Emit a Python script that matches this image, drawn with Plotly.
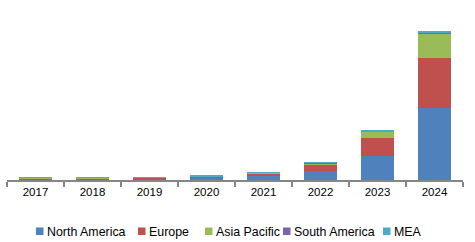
import plotly.graph_objects as go

years = ["2017", "2018", "2019", "2020", "2021", "2022", "2023", "2024"]
north_america = [0.8, 0.8, 0.8, 2.8, 4.3, 9.0, 24.3, 72.3]
europe = [0.2, 0.2, 1.2, 0.5, 2.0, 6.0, 18.0, 50.0]
asia_pacific = [1.0, 1.0, 0.2, 0.2, 0.7, 1.7, 6.0, 24.0]
south_america = [0.0, 0.0, 0.1, 0.1, 0.2, 0.3, 0.5, 0.7]
mea = [0.1, 0.1, 0.4, 0.8, 0.8, 1.0, 1.2, 1.3]

series_names = ["North America", "Europe", "Asia Pacific", "South America", "MEA"]
series_values = [north_america, europe, asia_pacific, south_america, mea]
series_colors = ["#4F81BD", "#C0504D", "#9BBB59", "#8064A2", "#4BACC6"]

# legend layout (pixel positions of the custom legend squares)
legend_square_px = [36, 138, 205, 283, 383]

W, H = 475, 242
L, R, T, B = 7, 12, 20, 62
plot_w = W - L - R
plot_h = H - T - B

def px_x(p):
    return (p - L) / plot_w

def px_y(p):
    return (H - B - p) / plot_h

fig = go.Figure()
for name, vals, color in zip(series_names, series_values, series_colors):
    fig.add_trace(go.Bar(x=years, y=vals, name=name,
                         marker=dict(color=color, line=dict(width=0))))

shapes = []
annotations = []
for name, color, sx in zip(series_names, series_colors, legend_square_px):
    shapes.append(dict(type="rect", xref="paper", yref="paper",
                       x0=px_x(sx), x1=px_x(sx + 7.5),
                       y0=px_y(235), y1=px_y(227.5),
                       fillcolor=color, line=dict(width=0)))
    annotations.append(dict(xref="paper", yref="paper",
                            x=px_x(sx + 9.5), y=px_y(231.5),
                            xanchor="left", yanchor="middle",
                            text=name, showarrow=False,
                            font=dict(size=12.4, color="#000000"),
                            borderpad=0))

fig.update_layout(
    barmode="stack",
    bargap=0.42,
    width=W,
    height=H,
    margin=dict(l=L, r=R, t=T, b=B),
    plot_bgcolor="white",
    paper_bgcolor="white",
    font=dict(family="Liberation Sans, Arial, sans-serif", size=12, color="#000000"),
    showlegend=False,
    shapes=shapes,
    annotations=annotations,
)
fig.update_xaxes(
    showline=True,
    linecolor="#868686",
    linewidth=1.5,
    ticks="outside",
    tickson="boundaries",
    ticklen=5,
    tickcolor="#868686",
    tickwidth=1.5,
    tickfont=dict(size=11.5, color="#000000"),
    showgrid=False,
)
fig.update_yaxes(visible=False, range=[0, 160], showgrid=False)

fig.write_html("out.html")
